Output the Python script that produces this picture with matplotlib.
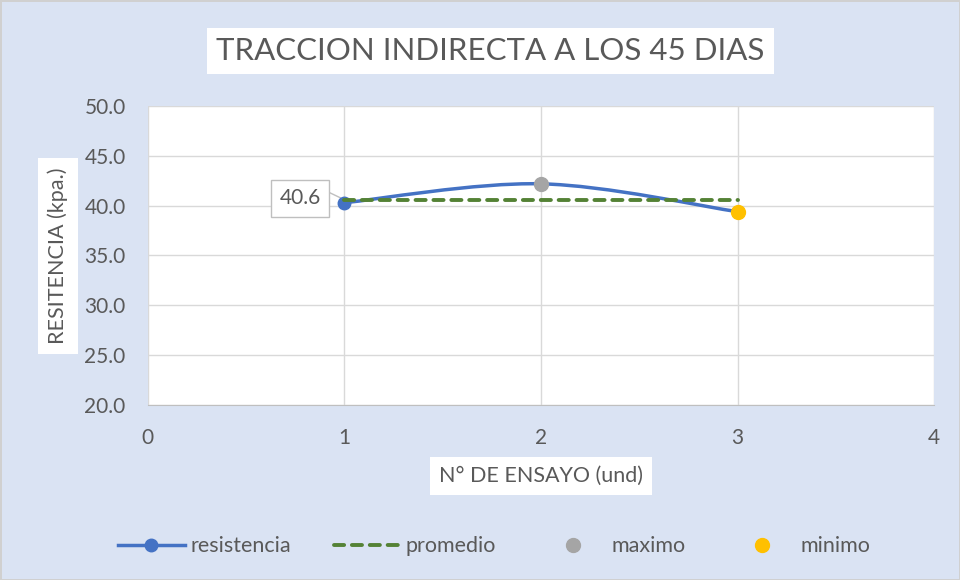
import matplotlib.pyplot as plt
from matplotlib.path import Path
from matplotlib.patches import PathPatch
from matplotlib.lines import Line2D
import numpy as np

plt.rcParams['font.family'] = ['Lato', 'DejaVu Sans']

ensayo = [1, 2, 3]
resistencia = [40.3, 42.2, 39.4]
promedio = [40.6, 40.6, 40.6]
max_pt = (2, 42.2)
min_pt = (3, 39.4)
label_prom = "40.6"

BG = '#DAE3F3'
TXT = '#595959'
BLUE = '#4472C4'
GREEN = '#548235'
GRAY = '#A5A5A5'
YELLOW = '#FFC000'
GRID = '#D9D9D9'
DASH = (0, (2.6, 2.0))


def smooth_path(x, y, t=1 / 6):
    # catmull-rom style bezier, like the excel smoothed line
    px = [x[0]] + list(x) + [x[-1]]
    py = [y[0]] + list(y) + [y[-1]]
    verts = [(x[0], y[0])]
    codes = [Path.MOVETO]
    for i in range(1, len(px) - 2):
        c1 = (px[i] + (px[i + 1] - px[i - 1]) * t, py[i] + (py[i + 1] - py[i - 1]) * t)
        c2 = (px[i + 1] - (px[i + 2] - px[i]) * t, py[i + 1] - (py[i + 2] - py[i]) * t)
        verts += [c1, c2, (px[i + 1], py[i + 1])]
        codes += [Path.CURVE4] * 3
    return Path(verts, codes)


fig = plt.figure(figsize=(9.6, 5.8), dpi=100, facecolor=BG)
fig.patch.set_edgecolor('#D0D0D0')
fig.patch.set_linewidth(2)
ax = fig.add_axes([0.154, 0.302, 0.819, 0.515])
ax.set_facecolor('white')

ax.set_xlim(0, 4)
ax.set_ylim(20, 50)
ax.set_xticks(range(0, 5))
ax.set_yticks(np.arange(20, 51, 5))
ax.set_yticklabels([f"{v:.1f}" for v in np.arange(20, 51, 5)])
ax.grid(True, color=GRID, lw=1)
ax.set_axisbelow(True)
for s in ax.spines.values():
    s.set_visible(False)
ax.spines['bottom'].set_visible(True)
ax.spines['bottom'].set_color('#BFBFBF')
ax.tick_params(length=0, labelsize=15, colors=TXT)
ax.tick_params(axis='y', pad=16)
ax.tick_params(axis='x', pad=17)

ax.add_patch(PathPatch(smooth_path(ensayo, resistencia), fill=False, ec=BLUE, lw=2.5, zorder=3))
ax.plot(ensayo[:1], resistencia[:1], 'o', color=BLUE, ms=9, zorder=4)
ax.plot(ensayo, promedio, color=GREEN, lw=2.8, ls=DASH, dash_capstyle='round', zorder=4)
ax.plot(*max_pt, 'o', color=GRAY, ms=10, zorder=5)
ax.plot(*min_pt, 'o', color=YELLOW, ms=10, zorder=5)

ax.annotate(label_prom, xy=(ensayo[0], promedio[0]), xytext=(-32, 1),
            textcoords='offset points', ha='center', va='center', fontsize=15, color=TXT,
            bbox=dict(boxstyle='square,pad=0.4', fc='white', ec='#BFBFBF'),
            arrowprops=dict(arrowstyle='-', color='#BFBFBF', lw=1, shrinkA=0, shrinkB=3,
                            relpos=(1.0, 1.0)))

fig.text(0.511, 0.912, 'TRACCION INDIRECTA A LOS 45 DIAS', ha='center', va='center',
         fontsize=22.5, color=TXT,
         bbox=dict(boxstyle='square,pad=0.3', fc='white', ec='none'))
fig.text(58 / 960, 1 - 256 / 580, 'RESITENCIA (kpa.)', rotation=90, ha='center', va='center',
         fontsize=15.5, color=TXT,
         bbox=dict(boxstyle='square,pad=0.45', fc='white', ec='none'))
fig.text(541 / 960, 1 - 476 / 580, 'N° DE ENSAYO (und)', ha='center', va='center',
         fontsize=15.5, color=TXT,
         bbox=dict(boxstyle='square,pad=0.4', fc='white', ec='none'))

handles = [
    Line2D([], [], color=BLUE, lw=2.5, marker='o', ms=9),
    Line2D([], [], color=GREEN, lw=2.8, ls=DASH, dash_capstyle='round'),
    Line2D([], [], color=GRAY, lw=0, marker='o', ms=10),
    Line2D([], [], color=YELLOW, lw=0, marker='o', ms=10),
]
fig.legend(handles, ['resistencia', 'promedio', 'maximo', 'minimo'], loc='center',
           bbox_to_anchor=(0.515, 0.058), ncol=4, frameon=False, fontsize=15.5,
           labelcolor=TXT, handlelength=3.1, handletextpad=0.25, columnspacing=2.0)

fig.savefig('out.png', dpi=100, facecolor=fig.get_facecolor(), edgecolor=fig.patch.get_edgecolor())
